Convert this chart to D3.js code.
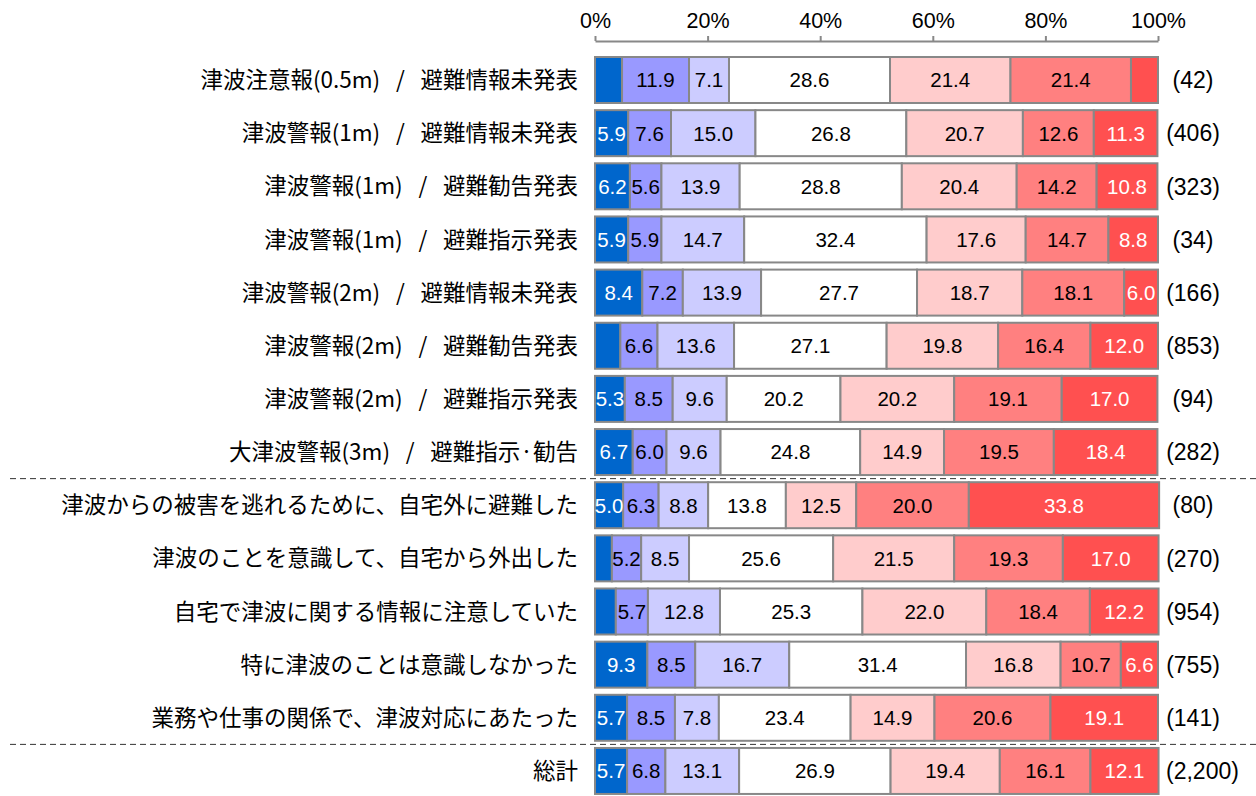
<!DOCTYPE html>
<html>
<head>
<meta charset="utf-8">
<script src="https://cdn.jsdelivr.net/npm/d3@7"></script>
<style>
  html, body { margin: 0; padding: 0; background: #fff; }
  svg { display: block; }
  .cat { font-family: "Noto Sans CJK JP", "Noto Sans", sans-serif; font-size: 22.5px; fill: #000; }
  .num { font-family: "Liberation Sans", Arial, sans-serif; font-size: 20.5px; }
  .cnt { font-family: "Liberation Sans", Arial, sans-serif; font-size: 23px; fill: #000; }
  .tick text { font-family: "Liberation Sans", Arial, sans-serif; font-size: 21.5px; fill: #000; }
</style>
</head>
<body>
<svg id="chart" width="1256" height="796"></svg>
<script>
// Row labels (top to bottom)
const categories = [
  "津波注意報(0.5m)\u2002\u2009/\u2009\u2002避難情報未発表",
  "津波警報(1m)\u2002\u2009/\u2009\u2002避難情報未発表",
  "津波警報(1m)\u2002\u2009/\u2009\u2002避難勧告発表",
  "津波警報(1m)\u2002\u2009/\u2009\u2002避難指示発表",
  "津波警報(2m)\u2002\u2009/\u2009\u2002避難情報未発表",
  "津波警報(2m)\u2002\u2009/\u2009\u2002避難勧告発表",
  "津波警報(2m)\u2002\u2009/\u2009\u2002避難指示発表",
  "大津波警報(3m)\u2002\u2009/\u2009\u2002避難指示·勧告",
  "津波からの被害を逃れるために、自宅外に避難した",
  "津波のことを意識して、自宅から外出した",
  "自宅で津波に関する情報に注意していた",
  "特に津波のことは意識しなかった",
  "業務や仕事の関係で、津波対応にあたった",
  "総計"
];

// Respondent counts per row
const counts = ["(42)", "(406)", "(323)", "(34)", "(166)", "(853)", "(94)", "(282)",
                "(80)", "(270)", "(954)", "(755)", "(141)", "(2,200)"];

// Percentages for each of the seven response levels
const level1 = [4.8, 5.9, 6.2, 5.9, 8.4, 4.5, 5.3, 6.7, 5.0, 3.0, 3.7, 9.3, 5.7, 5.7];
const level2 = [11.9, 7.6, 5.6, 5.9, 7.2, 6.6, 8.5, 6.0, 6.3, 5.2, 5.7, 8.5, 8.5, 6.8];
const level3 = [7.1, 15.0, 13.9, 14.7, 13.9, 13.6, 9.6, 9.6, 8.8, 8.5, 12.8, 16.7, 7.8, 13.1];
const level4 = [28.6, 26.8, 28.8, 32.4, 27.7, 27.1, 20.2, 24.8, 13.8, 25.6, 25.3, 31.4, 23.4, 26.9];
const level5 = [21.4, 20.7, 20.4, 17.6, 18.7, 19.8, 20.2, 14.9, 12.5, 21.5, 22.0, 16.8, 14.9, 19.4];
const level6 = [21.4, 12.6, 14.2, 14.7, 18.1, 16.4, 19.1, 19.5, 20.0, 19.3, 18.4, 10.7, 20.6, 16.1];
const level7 = [4.8, 11.3, 10.8, 8.8, 6.0, 12.0, 17.0, 18.4, 33.8, 17.0, 12.2, 6.6, 19.1, 12.1];

const levels = [level1, level2, level3, level4, level5, level6, level7];
const levelColors = ["#0066CC", "#9999FF", "#CCCCFF", "#FFFFFF", "#FFCCCC", "#FF8080", "#FF5050"];
const levelTextColors = ["#fff", "#000", "#000", "#000", "#000", "#000", "#fff"];

const tickValues = [0, 20, 40, 60, 80, 100];
// Rows after which a dashed separator is drawn
const separatorsAfter = [7, 12];

const svg = d3.select("#chart");

const x = d3.scaleLinear().domain([0, 100]).range([595, 1158]);

const rowStep = 53.15, barH = 46, firstBarTop = 57;
const y = d3.scaleBand()
  .domain(d3.range(categories.length))
  .range([firstBarTop, firstBarTop + (categories.length - 1) * rowStep + barH])
  .paddingInner((rowStep - barH) / rowStep)
  .paddingOuter(0);

// Axis on top with ticks pointing upward
const axis = d3.axisTop(x)
  .tickValues(tickValues)
  .tickFormat(d => d + "%")
  .tickSize(5)
  .tickSizeOuter(0)
  .tickPadding(8);

const axisG = svg.append("g")
  .attr("transform", "translate(0,41)")
  .call(axis);
axisG.select(".domain").attr("stroke", "#888").attr("stroke-width", 2);
axisG.selectAll(".tick line").attr("stroke", "#888").attr("stroke-width", 2);

// Build stacked segments
const rows = categories.map((c, i) => {
  let acc = 0;
  const segs = levels.map((arr, k) => {
    const s = { row: i, k, v: arr[i], x0: acc, x1: acc + arr[i] };
    acc += arr[i];
    return s;
  });
  return { i, segs };
});

const rowG = svg.append("g").selectAll("g.row")
  .data(rows)
  .join("g")
  .attr("class", "row")
  .attr("transform", d => `translate(0,${y(d.i)})`);

rowG.selectAll("rect")
  .data(d => d.segs)
  .join("rect")
  .attr("x", d => x(d.x0))
  .attr("width", d => x(d.x1) - x(d.x0))
  .attr("y", 0)
  .attr("height", y.bandwidth())
  .attr("fill", d => levelColors[d.k])
  .attr("stroke", "#888")
  .attr("stroke-width", 2);

// Value labels (segments under 5% are left unlabelled)
rowG.selectAll("text.num")
  .data(d => d.segs.filter(s => s.v >= 5))
  .join("text")
  .attr("class", "num")
  .attr("x", d => (x(d.x0) + x(d.x1)) / 2)
  .attr("y", y.bandwidth() / 2)
  .attr("dy", "0.36em")
  .attr("text-anchor", "middle")
  .attr("fill", d => levelTextColors[d.k])
  .text(d => d.v.toFixed(1));

// Category labels
rowG.append("text")
  .attr("class", "cat")
  .attr("x", 578)
  .attr("y", y.bandwidth() / 2)
  .attr("dy", "0.36em")
  .attr("text-anchor", "end")
  .text(d => categories[d.i]);

// Counts
rowG.append("text")
  .attr("class", "cnt")
  .attr("y", y.bandwidth() / 2)
  .attr("dy", "0.36em")
  .text(d => counts[d.i])
  .each(function() {
    const w = this.getComputedTextLength();
    d3.select(this).attr("x", Math.max(1193 - w / 2, 1166));
  });

// Dashed separators
svg.append("g").selectAll("line")
  .data(separatorsAfter)
  .join("line")
  .attr("x1", 10)
  .attr("x2", 1256)
  .attr("y1", d => (y(d) + y.bandwidth() + y(d + 1)) / 2)
  .attr("y2", d => (y(d) + y.bandwidth() + y(d + 1)) / 2)
  .attr("stroke", "#333")
  .attr("stroke-width", 1)
  .attr("stroke-dasharray", "6,4");
</script>
</body>
</html>
